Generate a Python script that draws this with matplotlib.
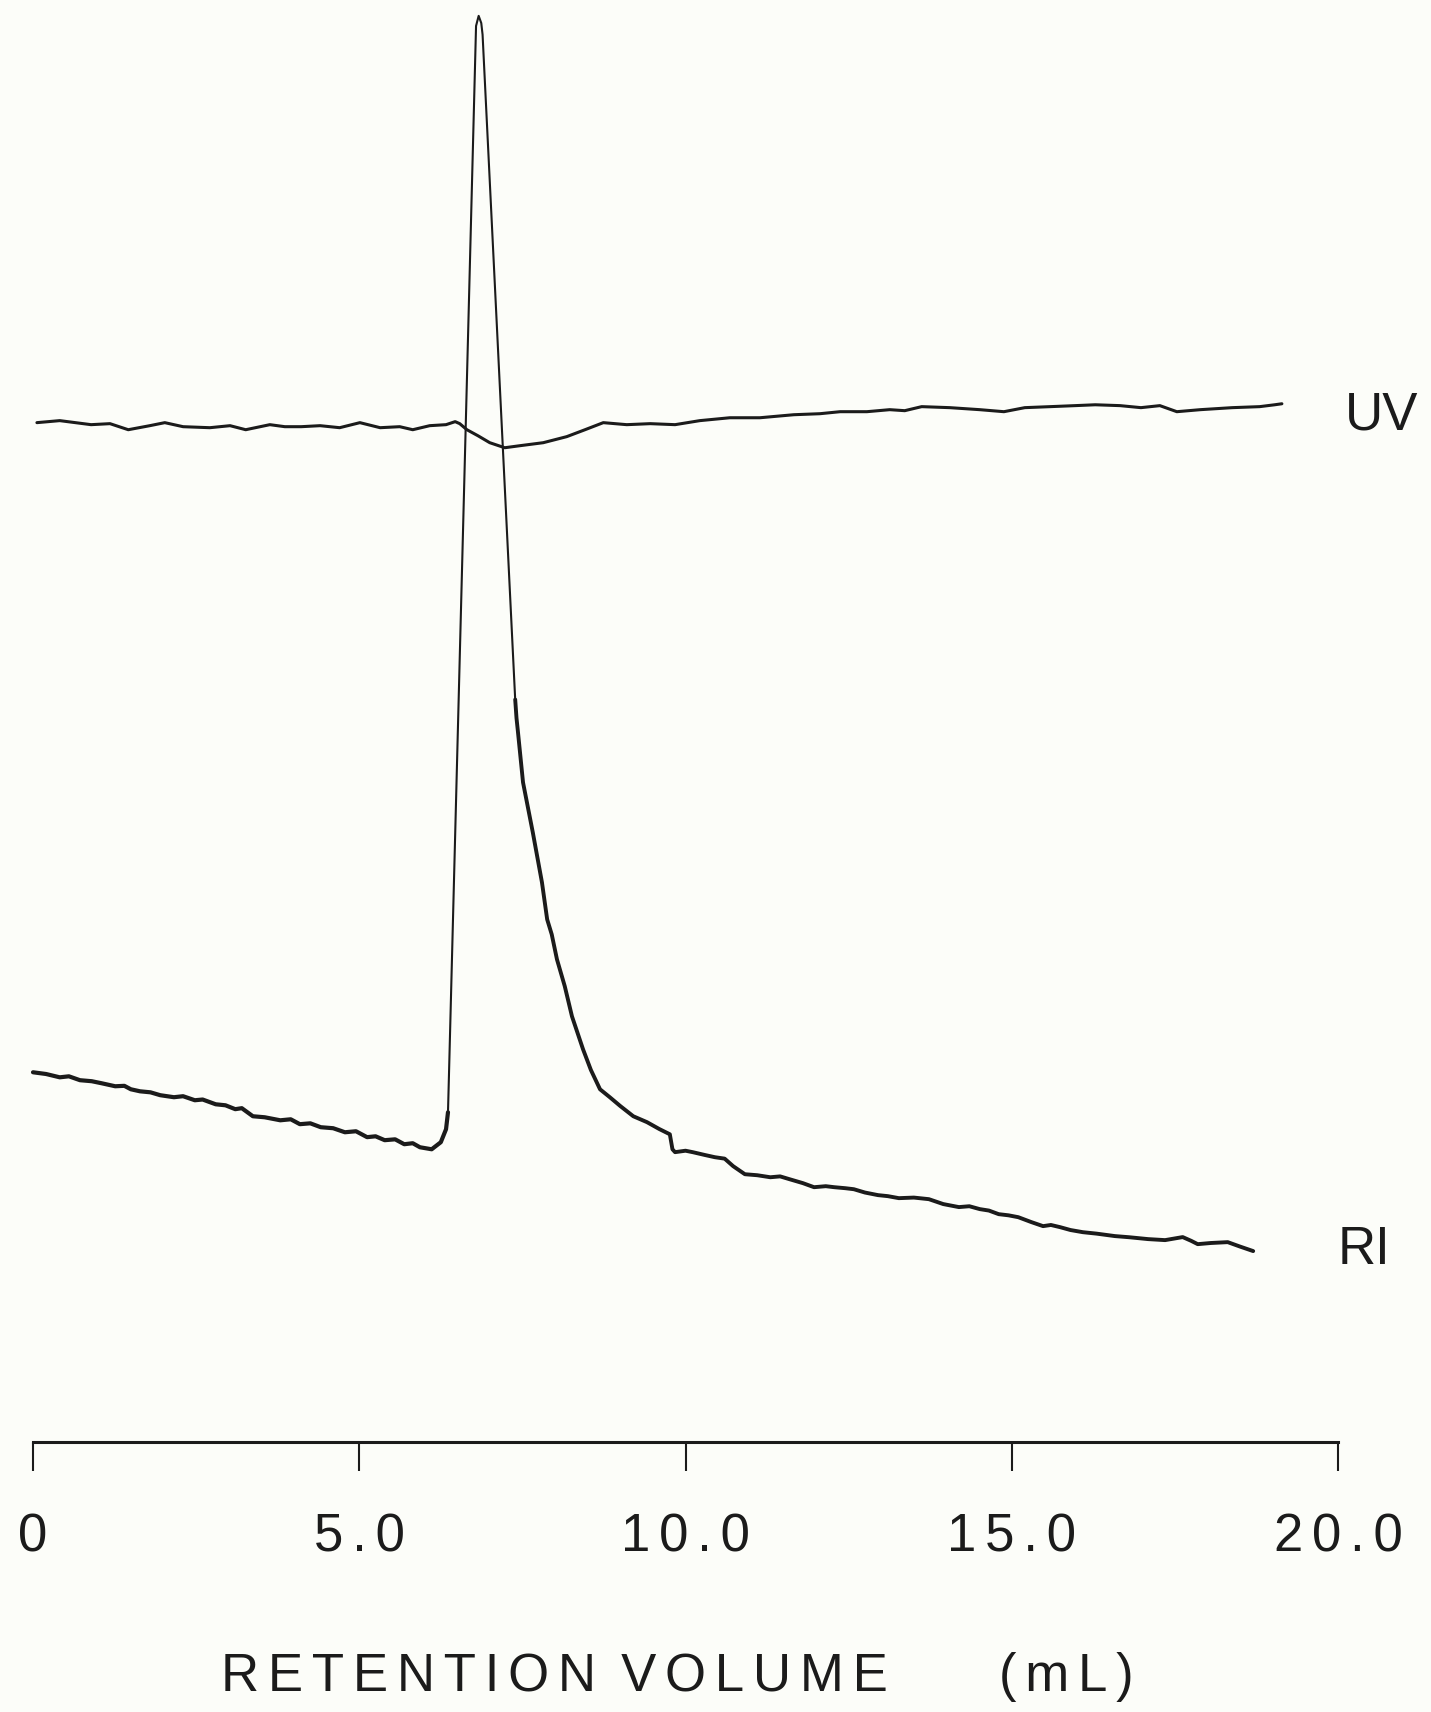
import matplotlib
matplotlib.use("Agg")
import matplotlib.pyplot as plt

# RI trace: retention volume (mL) and detector response (arb. units)
ri_volume = [0.00, 0.20, 0.41, 0.55, 0.72, 0.90, 1.05, 1.26, 1.40, 1.50, 1.64, 1.80, 1.95,
             2.16, 2.30, 2.48, 2.60, 2.80, 2.95, 3.10, 3.20, 3.37, 3.55, 3.79, 3.95, 4.09,
             4.25, 4.41, 4.60, 4.78, 4.95, 5.12, 5.25, 5.39, 5.55, 5.69, 5.82, 5.93, 6.11,
             6.25, 6.33, 6.36, 6.38, 6.79, 6.83, 6.87, 6.89, 7.39, 7.41, 7.43, 7.51, 7.66,
             7.80, 7.88, 7.95, 8.03, 8.15, 8.26, 8.43, 8.55, 8.69, 8.84, 9.00, 9.20, 9.41,
             9.60, 9.76, 9.80, 9.84, 10.00, 10.11, 10.30, 10.45, 10.60, 10.73, 10.91, 11.10,
             11.30, 11.45, 11.59, 11.80, 11.97, 12.15, 12.28, 12.45, 12.58, 12.75, 12.95,
             13.10, 13.27, 13.50, 13.73, 13.95, 14.19, 14.35, 14.51, 14.65, 14.80, 14.95,
             15.10, 15.30, 15.48, 15.60, 15.74, 15.90, 16.09, 16.30, 16.58, 16.80, 17.09,
             17.35, 17.62, 17.75, 17.85, 18.05, 18.31, 18.50, 18.70]
ri_signal = [25.64, 25.52, 25.29, 25.36, 25.09, 25.02, 24.88, 24.67, 24.70, 24.46, 24.32,
             24.25, 24.05, 23.91, 23.98, 23.70, 23.75, 23.42, 23.35, 23.08, 23.15, 22.59,
             22.52, 22.31, 22.38, 22.04, 22.10, 21.83, 21.76, 21.48, 21.55, 21.14, 21.20,
             20.93, 20.99, 20.65, 20.72, 20.44, 20.30, 20.79, 21.69, 22.87, 26.33, 98.2,
             98.9, 98.4, 97.6, 51.49, 50.2, 49.34, 45.74, 42.27, 38.81, 36.24, 35.2, 33.47,
             31.60, 29.52, 27.23, 25.8, 24.46, 23.91, 23.30, 22.59, 22.18, 21.70, 21.34,
             20.30, 20.10, 20.20, 20.10, 19.90, 19.75, 19.65, 19.13, 18.57, 18.50, 18.36,
             18.42, 18.23, 17.95, 17.67, 17.74, 17.67, 17.60, 17.53, 17.30, 17.12, 17.05,
             16.91, 16.95, 16.84, 16.50, 16.29, 16.35, 16.15, 16.05, 15.80, 15.72, 15.59,
             15.25, 14.97, 15.05, 14.90, 14.70, 14.55, 14.45, 14.28, 14.20, 14.07, 14.00,
             14.21, 13.95, 13.72, 13.80, 13.86, 13.55, 13.24]

# UV trace
uv_volume = [0.06, 0.41, 0.89, 1.18, 1.46, 1.79, 2.02, 2.30, 2.71, 3.02, 3.26, 3.63, 3.86,
             4.11, 4.40, 4.70, 5.01, 5.32, 5.62, 5.82, 6.08, 6.33, 6.47, 6.54, 6.65, 6.82,
             7.00, 7.23, 7.46, 7.82, 8.18, 8.46, 8.74, 8.92, 9.10, 9.46, 9.84, 10.22, 10.68,
             11.14, 11.66, 12.06, 12.37, 12.78, 13.13, 13.36, 13.62, 14.05, 14.51, 14.88,
             15.20, 15.59, 15.97, 16.28, 16.66, 16.98, 17.27, 17.53, 17.89, 18.38, 18.80,
             19.03, 19.14]
uv_signal = [70.69, 70.83, 70.55, 70.62, 70.20, 70.48, 70.69, 70.41, 70.34, 70.48, 70.20,
             70.55, 70.41, 70.41, 70.48, 70.34, 70.69, 70.34, 70.41, 70.20, 70.48, 70.55,
             70.76, 70.62, 70.20, 69.78, 69.30, 68.95, 69.09, 69.30, 69.72, 70.20, 70.69,
             70.62, 70.55, 70.62, 70.55, 70.83, 71.03, 71.03, 71.24, 71.31, 71.45, 71.45,
             71.59, 71.52, 71.80, 71.73, 71.59, 71.45, 71.73, 71.80, 71.87, 71.93, 71.87,
             71.73, 71.87, 71.45, 71.59, 71.73, 71.80, 71.93, 72.00]

xticks = [0, 5, 10, 15, 20]
xtick_labels = ["0", "5.0", "10.0", "15.0", "20.0"]

INK = "#1b1b1b"
PAPER = "#fcfdf9"
FONT = ["Liberation Sans", "DejaVu Sans"]


def spaced(s):
    # plotter lettering is loosely tracked
    return "\u200a\u200a".join(s)


fig = plt.figure(figsize=(14.31, 17.12), dpi=100, facecolor=PAPER)
ax = fig.add_axes([33 / 1431, 1 - 1442 / 1712, 1305 / 1431, 1442 / 1712])
ax.set_facecolor(PAPER)

# the pen draws thinner on the fast peak strokes, heavier on the slow baseline
rise, fall = 41, 47
ax.plot(ri_volume, ri_signal, color=INK, lw=1.5, solid_joinstyle="round", clip_on=False)
ax.plot(ri_volume[:rise + 1], ri_signal[:rise + 1], color=INK, lw=3.0,
        solid_joinstyle="round", solid_capstyle="round", clip_on=False)
ax.plot(ri_volume[fall:], ri_signal[fall:], color=INK, lw=2.8,
        solid_joinstyle="round", solid_capstyle="round", clip_on=False)
ax.plot(uv_volume, uv_signal, color=INK, lw=2.2, solid_joinstyle="round",
        solid_capstyle="round", clip_on=False)

ax.set_xlim(0, 20)
ax.set_ylim(0, 100)
for side in ["top", "right", "left"]:
    ax.spines[side].set_visible(False)
ax.spines["bottom"].set_linewidth(2.2)
ax.spines["bottom"].set_color(INK)
ax.set_yticks([])
ax.set_xticks(xticks)
ax.set_xticklabels([spaced(t) for t in xtick_labels], family=FONT, fontsize=38, color=INK)
ax.tick_params(axis="x", direction="out", length=21, width=1.5, color=INK, pad=30)

fig.text(554 / 1431, 1 - 1677 / 1712, spaced("RETENTION") + "\u2009 " + spaced("VOLUME"),
         family=FONT, fontsize=38, color=INK, ha="center", va="center")
fig.text(1066 / 1431, 1 - 1677 / 1712, spaced("(mL)"),
         family=FONT, fontsize=38, color=INK, ha="center", va="center")

fig.text(1345 / 1431, 1 - 415 / 1712, "UV", family=FONT, fontsize=38,
         color=INK, ha="left", va="center")
fig.text(1338 / 1431, 1 - 1250 / 1712, "RI", family=FONT, fontsize=38,
         color=INK, ha="left", va="center")

fig.savefig("out.png", dpi=100, facecolor=PAPER)
